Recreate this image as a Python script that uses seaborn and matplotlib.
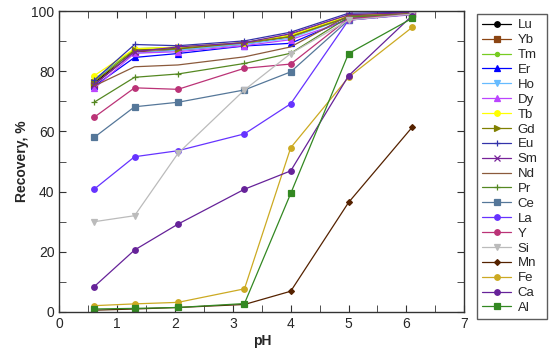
import matplotlib
matplotlib.use("Agg")
import matplotlib.pyplot as plt
import seaborn as sns
import pandas as pd
from matplotlib.ticker import MultipleLocator

sns.set_style("ticks")
plt.rcParams['font.family'] = ['Liberation Sans', 'DejaVu Sans']

ph = [0.6, 1.3, 2.05, 3.2, 4.0, 5.0, 6.1]

elements = ["Lu", "Yb", "Tm", "Er", "Ho", "Dy", "Tb", "Gd", "Eu", "Sm",
            "Nd", "Pr", "Ce", "La", "Y", "Si", "Mn", "Fe", "Ca", "Al"]

lu = [76.0, 87.0, 87.5, 89.5, 92.0, 98.5, 99.5]
yb = [75.5, 86.5, 87.0, 89.0, 91.5, 98.0, 99.0]
tm = [77.0, 87.5, 88.0, 89.5, 92.0, 98.5, 99.3]
er = [75.0, 84.6, 85.9, 88.4, 89.3, 97.5, 99.0]
ho = [77.5, 86.0, 87.0, 89.0, 91.0, 98.0, 99.2]
dy = [74.3, 86.0, 86.5, 88.5, 90.5, 97.0, 98.8]
tb = [78.5, 87.5, 88.0, 89.5, 92.0, 98.5, 99.3]
gd = [76.5, 87.0, 87.5, 89.5, 91.5, 98.0, 99.2]
eu = [77.0, 88.9, 88.5, 90.1, 93.0, 99.3, 99.6]
sm = [75.5, 86.5, 88.1, 89.5, 92.5, 98.8, 99.5]
nd = [75.1, 81.5, 82.1, 84.8, 88.1, 98.5, 99.0]
pr = [69.7, 78.0, 79.1, 82.6, 86.0, 98.0, 99.0]
ce = [58.0, 68.2, 69.7, 73.8, 79.8, 97.0, 99.0]
la = [40.8, 51.6, 53.6, 59.2, 69.2, 97.0, 99.0]
y_ = [64.7, 74.5, 74.0, 81.0, 82.4, 97.5, 99.0]
si = [30.0, 32.0, 52.7, 73.8, 85.9, 97.0, 99.0]
mn = [0.6, 1.0, 1.5, 2.5, 6.9, 36.4, 61.4]
fe = [2.1, 2.7, 3.2, 7.7, 54.6, 78.0, 94.6]
ca = [8.4, 20.6, 29.2, 40.8, 46.9, 78.5, 98.5]
al = [1.0, 1.2, 1.5, 2.8, 39.4, 85.9, 97.6]

values = [lu, yb, tm, er, ho, dy, tb, gd, eu, sm, nd, pr, ce, la, y_, si, mn, fe, ca, al]

colors = ["#000000", "#8B4513", "#77CC22", "#0000FF", "#66BBFF", "#BB44FF",
          "#FFFF00", "#808000", "#3333AA", "#772299", "#8B5A3C", "#558822",
          "#557799", "#6633FF", "#BB3377", "#BBBBBB", "#552200", "#CCAA22",
          "#662299", "#338822"]
markers = ["o", "s", "o", "^", "v", "^", "o", ">", "+", "x", None, "+",
           "s", "o", "o", "v", "D", "o", "o", "s"]
msizes = [4, 4, 3, 4, 4, 4, 4, 4, 5, 4, 0, 5, 4, 4, 4, 4, 3, 4, 4, 4]

fig = plt.figure(figsize=(5.5, 3.58), dpi=100)
ax = fig.add_axes([0.108, 0.1285, 0.736, 0.8405])

for name, vals, c, m, ms in zip(elements, values, colors, markers, msizes):
    df = pd.DataFrame({"pH": ph, "Recovery": vals})
    kw = dict(marker=m, markersize=ms, markeredgecolor=c, markeredgewidth=0.9) if m else {}
    sns.lineplot(data=df, x="pH", y="Recovery", ax=ax, color=c, label=name,
                 linewidth=0.9, **kw)

ax.set_xlim(0, 7)
ax.set_ylim(0, 100)
ax.xaxis.set_major_locator(MultipleLocator(1))
ax.xaxis.set_minor_locator(MultipleLocator(0.5))
ax.yaxis.set_major_locator(MultipleLocator(20))
ax.yaxis.set_minor_locator(MultipleLocator(10))
ax.tick_params(which="both", direction="in", top=True, right=True,
               labelsize=10, color="#333333")
ax.tick_params(which="major", length=5)
ax.tick_params(which="minor", length=5)
for s in ax.spines.values():
    s.set_color("#333333")
    s.set_linewidth(1)
ax.set_xlabel("pH", fontsize=10, fontweight="bold", labelpad=2)
ax.set_ylabel("Recovery, %", fontsize=10, fontweight="bold", labelpad=2)

leg = ax.legend(loc="upper left", bbox_to_anchor=(0.867, 0.132, 0.127, 0.829),
                bbox_transform=fig.transFigure, mode="expand", fontsize=9.5,
                handlelength=2.2, labelspacing=0.2, borderaxespad=0,
                fancybox=False, frameon=True, handletextpad=0.5, borderpad=0.4)
leg.get_frame().set_edgecolor("#333333")
leg.get_frame().set_linewidth(1)

fig.savefig("out.png", dpi=100)
